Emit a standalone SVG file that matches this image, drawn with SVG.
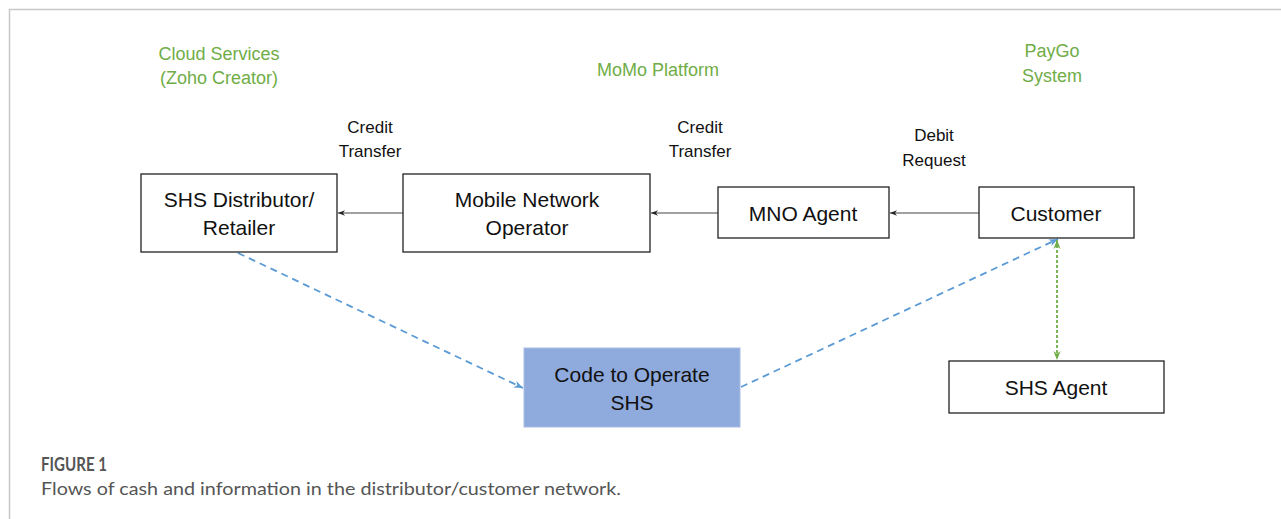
<svg xmlns="http://www.w3.org/2000/svg" width="1281" height="519" viewBox="0 0 1281 519">
<style>
.box{fill:#fff;stroke:#222;stroke-width:1.3}
.t{font-family:"Liberation Sans",Arial,sans-serif;font-size:21px;fill:#111;text-anchor:middle}
.lbl{font-family:"Liberation Sans",Arial,sans-serif;font-size:17px;fill:#111;text-anchor:middle}
.grn{font-family:"Liberation Sans",Arial,sans-serif;font-size:18px;fill:#70ad47;text-anchor:middle}
.solid{stroke:#444;stroke-width:1;fill:none}
.blue{stroke:#5b9bd5;stroke-width:1.8;stroke-dasharray:7 5;fill:none}
.green{stroke:#70ad47;stroke-width:1.8;stroke-dasharray:3 2;fill:none}
.cap{font-family:Lato,"Open Sans",sans-serif;fill:#555}
</style>
<defs>
<marker id="ah" viewBox="0 0 10 10" refX="10" refY="5" markerWidth="7" markerHeight="7" orient="auto" markerUnits="userSpaceOnUse">
<path d="M0,1 L10,5 L0,9 L3,5 z" fill="#222"/>
</marker>
<marker id="ab" viewBox="0 0 10 10" refX="10" refY="5" markerWidth="9" markerHeight="9" orient="auto" markerUnits="userSpaceOnUse">
<path d="M0,1 L10,5 L0,9 L3,5 z" fill="#5b9bd5"/>
</marker>
<marker id="ag" viewBox="0 0 10 10" refX="10" refY="5" markerWidth="9" markerHeight="9" orient="auto-start-reverse" markerUnits="userSpaceOnUse">
<path d="M0,1 L10,5 L0,9 L3,5 z" fill="#70ad47"/>
</marker>
</defs>
<rect width="1281" height="519" fill="#fff"/>
<path d="M9.5,519 V9.5 H1281" fill="none" stroke="#c8c8c8" stroke-width="1.5"/>

<g id="group-labels">
<text class="grn" x="219" y="60">Cloud Services</text>
<text class="grn" x="219" y="84">(Zoho Creator)</text>
<text class="grn" x="658" y="76">MoMo Platform</text>
<text class="grn" x="1052" y="57">PayGo</text>
<text class="grn" x="1052" y="82">System</text>
</g>

<g id="edge-labels">
<text class="lbl" x="370" y="133">Credit</text>
<text class="lbl" x="370" y="157">Transfer</text>
<text class="lbl" x="700" y="133">Credit</text>
<text class="lbl" x="700" y="157">Transfer</text>
<text class="lbl" x="934" y="141">Debit</text>
<text class="lbl" x="934" y="166">Request</text>
</g>

<g id="connectors">
<line class="solid" x1="979" y1="213" x2="890" y2="213" marker-end="url(#ah)"/>
<line class="solid" x1="718" y1="213" x2="651" y2="213" marker-end="url(#ah)"/>
<line class="solid" x1="403" y1="213" x2="338" y2="213" marker-end="url(#ah)"/>
<line class="blue" x1="238" y1="253" x2="523" y2="388" marker-end="url(#ab)"/>
<line class="blue" x1="741" y1="387" x2="1058" y2="239" marker-end="url(#ab)"/>
<line class="green" x1="1057" y1="240" x2="1057" y2="360" marker-start="url(#ag)" marker-end="url(#ag)"/>
</g>

<g id="node-distributor">
<rect class="box" x="141" y="174" width="196" height="78"/>
<text class="t" x="239" y="207">SHS Distributor/</text>
<text class="t" x="239" y="235">Retailer</text>
</g>
<g id="node-mno">
<rect class="box" x="403" y="174" width="247" height="78"/>
<text class="t" x="527" y="207">Mobile Network</text>
<text class="t" x="527" y="235">Operator</text>
</g>
<g id="node-mno-agent">
<rect class="box" x="718" y="187" width="171" height="51"/>
<text class="t" x="803" y="221">MNO Agent</text>
</g>
<g id="node-customer">
<rect class="box" x="979" y="187" width="155" height="51"/>
<text class="t" x="1056" y="221">Customer</text>
</g>
<g id="node-code">
<rect x="524" y="348" width="216" height="79" fill="#8faadc" stroke="#a9bde4" stroke-width="1"/>
<text class="t" x="632" y="382">Code to Operate</text>
<text class="t" x="632" y="410">SHS</text>
</g>
<g id="node-shs-agent">
<rect class="box" x="949" y="361" width="215" height="52"/>
<text class="t" x="1056" y="395">SHS Agent</text>
</g>

<g id="caption">
<text class="cap" x="41" y="471" font-size="18" font-weight="bold" textLength="66" lengthAdjust="spacingAndGlyphs">FIGURE 1</text>
<text class="cap" x="41" y="495" font-size="18" textLength="580" lengthAdjust="spacingAndGlyphs">Flows of cash and information in the distributor/customer network.</text>
</g>
</svg>
